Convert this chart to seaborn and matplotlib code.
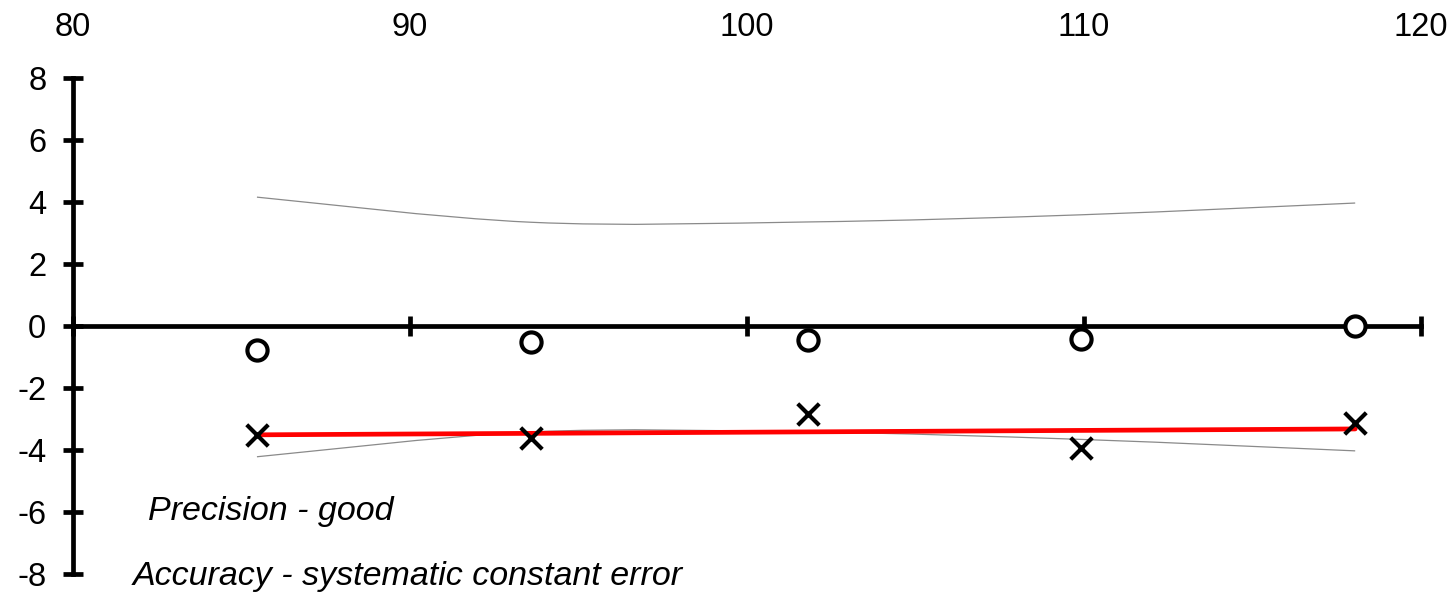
import numpy as np
import pandas as pd
import matplotlib
matplotlib.use("Agg")
import matplotlib.pyplot as plt
import seaborn as sns
from matplotlib.path import Path
from matplotlib.patches import PathPatch

# ---- data ----
x_vals = [85.46, 93.6, 101.8, 109.9, 118.05]
circle_vals = [-0.77, -0.53, -0.45, -0.43, 0.0]
cross_vals = [-3.53, -3.63, -2.85, -3.94, -3.14]
upper_vals = [4.15, 3.34, 3.35, 3.58, 3.96]
lower_vals = [-4.22, -3.42, -3.42, -3.66, -4.03]
x_ticks = [80, 90, 100, 110, 120]
y_ticks = [-8, -6, -4, -2, 0, 2, 4, 6, 8]
notes = ["Precision - good", "Accuracy - systematic constant error"]

sns.set_theme(style="white")
plt.rcParams['font.family'] = ['Liberation Sans', 'DejaVu Sans']
plt.rcParams['text.color'] = 'black'

fig = plt.figure(figsize=(14.56, 5.96), dpi=100)
ax = fig.add_axes([0.0501, 0.0369, 0.9258, 0.8327])


def smooth_path(xs, ys):
    """Excel-style smoothed line: Catmull-Rom segments as cubic Beziers."""
    pts = np.column_stack([xs, ys]).astype(float)
    n = len(pts)
    verts = [pts[0]]
    codes = [Path.MOVETO]
    for i in range(n - 1):
        p0 = pts[i - 1] if i > 0 else pts[i]
        p1 = pts[i]
        p2 = pts[i + 1]
        p3 = pts[i + 2] if i + 2 < n else pts[i + 1]
        c1 = p1 + (p2 - p0) / 6.0
        c2 = p2 - (p3 - p1) / 6.0
        verts += [c1, c2, p2]
        codes += [Path.CURVE4] * 3
    return Path(verts, codes)


for band in (upper_vals, lower_vals):
    ax.add_patch(PathPatch(smooth_path(x_vals, band), facecolor='none',
                           edgecolor='#8a8a8a', lw=0.9, zorder=2))

# linear trend of the crosses
sns.regplot(x=x_vals, y=cross_vals, scatter=False, ci=None, truncate=True,
            ax=ax, line_kws=dict(color='#ff0000', lw=3.4, zorder=3))

sns.scatterplot(x=x_vals, y=circle_vals, marker='o', s=14.5 ** 2,
                facecolor='white', edgecolor='black', linewidth=3.0,
                ax=ax, zorder=5, legend=False)
sns.scatterplot(x=x_vals, y=cross_vals, marker='x', s=15.5 ** 2,
                color='black', linewidth=3.0, ax=ax, zorder=5, legend=False)

ax.set_xlim(80, 120)
ax.set_ylim(-8, 8)
ax.set_xticks(x_ticks)
ax.set_yticks(y_ticks)
ax.set_xticklabels([str(v) for v in x_ticks])
ax.set_yticklabels([str(v) for v in y_ticks])
ax.set_xlabel('')
ax.set_ylabel('')
ax.grid(False)

for side in ('top', 'right'):
    ax.spines[side].set_visible(False)
ax.spines['bottom'].set_position(('data', 0))
for side in ('left', 'bottom'):
    ax.spines[side].set_linewidth(3.4)
    ax.spines[side].set_color('black')

ax.tick_params(axis='both', direction='inout', length=14.4, width=3.4,
               color='black', labelsize=23.5, labelcolor='black')
ax.tick_params(axis='x', bottom=True, top=False, labelbottom=False,
               labeltop=True, pad=18)
ax.tick_params(axis='y', left=True, right=False, pad=12)

ax.text(82.23, -6.25, notes[0], style='italic', fontsize=24.5,
        va='baseline', color='black')
ax.text(81.78, -8.34, notes[1], style='italic', fontsize=24.5,
        va='baseline', color='black')

fig.savefig('out.png', dpi=100)
